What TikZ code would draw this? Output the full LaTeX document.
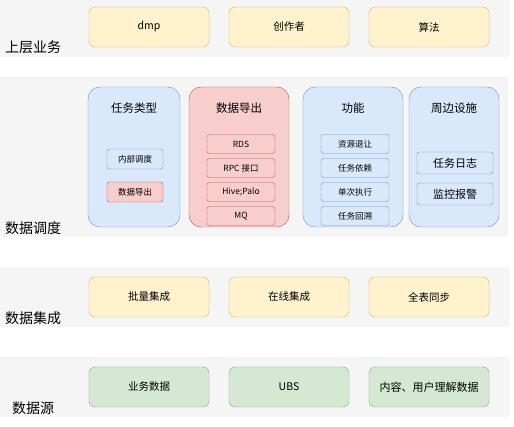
\documentclass[tikz,border=0pt]{standalone}
\usepackage{fontspec}
\setmainfont{Noto Sans CJK SC}
\usepackage{tikz}
\usetikzlibrary{positioning}
\definecolor{layergray}{HTML}{F5F5F5}
\definecolor{layeryellow}{HTML}{FFF2CC}
\definecolor{layeryellowline}{HTML}{D6B656}
\definecolor{layerblue}{HTML}{DAE8FC}
\definecolor{layerblueline}{HTML}{6C8EBF}
\definecolor{layerred}{HTML}{F8CECC}
\definecolor{layerredline}{HTML}{B85450}
\definecolor{layergreen}{HTML}{D5E8D4}
\definecolor{layergreenline}{HTML}{82B366}
\tikzstyle{layerlabel} = [anchor=west, inner sep=0pt, font=\fontsize{14}{16}\selectfont]
\tikzstyle{wideitem} = [rounded corners=6pt, minimum width=120pt, minimum height=40pt, inner sep=0pt, font=\fontsize{10.5}{12}\selectfont]
\tikzstyle{groupbox} = [rounded corners=12pt, minimum height=140pt, inner sep=0pt]
\tikzstyle{smallitem} = [rounded corners=2.5pt, minimum width=68pt, minimum height=19pt, inner sep=0pt, font=\fontsize{8.5}{10}\selectfont]

\begin{document}
\begin{tikzpicture}[x=1pt, y=-1pt]
\useasboundingbox (0,0) rectangle (514,427);

% layer backgrounds
\fill[layergray] (0,0) rectangle (510,57);
\fill[layergray] (0,77) rectangle (508,237);
\fill[layergray] (0,267) rectangle (510,327);
\fill[layergray] (0,357) rectangle (510,417);

\node[layerlabel] (lblbiz) at (5,47) {上层业务};
\node[layerlabel] (lblsched) at (5,228) {数据调度};
\node[layerlabel] (lblinteg) at (5,318) {数据集成};
\node[layerlabel] (lblsrc) at (12,408) {数据源};

% top business
\foreach [count=\i] \t/\x in {dmp/149, 创作者/289, 算法/429}
  \node[wideitem, fill=layeryellow, draw=layeryellowline] (biz\i) at (\x,27) {\t};

% integration
\foreach [count=\i] \t/\x in {批量集成/149, 在线集成/289, 全表同步/429}
  \node[wideitem, fill=layeryellow, draw=layeryellowline] (integ\i) at (\x,297) {\t};

% sources
\foreach [count=\i] \t/\x in {业务数据/149, UBS/289}
  \node[wideitem, fill=layergreen, draw=layergreenline] (src\i) at (\x,387) {\t};
\node[wideitem, fill=layergreen, draw=layergreenline, font=\fontsize{11}{12}\selectfont] (src3) at (429,387) {内容、用户理解数据};

% scheduling groups
\node[groupbox, minimum width=92pt, fill=layerblue, draw=layerblueline] (tasktype) at (134,157) {};
\node[groupbox, minimum width=100pt, fill=layerred, draw=layerredline] (export) at (239,157) {};
\node[groupbox, minimum width=100pt, fill=layerblue, draw=layerblueline] (func) at (353,157) {};
\node[groupbox, minimum width=90pt, fill=layerblue, draw=layerblueline] (infra) at (454,157) {};

\node[font=\fontsize{11.5}{13}\selectfont] (tasktypetitle) at (134,108) {任务类型};
\node[font=\fontsize{11.5}{13}\selectfont] (exporttitle) at (239,108) {数据导出};
\node[font=\fontsize{11.5}{13}\selectfont] (functitle) at (353,108) {功能};
\node[font=\fontsize{11.5}{13}\selectfont] (infratitle) at (454,108) {周边设施};

\node[smallitem, minimum width=56pt, minimum height=20pt, fill=layerblue, draw=layerblueline] (inner) at (135,159) {内部调度};
\node[smallitem, minimum width=56pt, minimum height=20pt, fill=layerred, draw=layerredline] (exportkind) at (135,192) {数据导出};

\foreach [count=\i] \t/\y in {RDS/144, RPC 接口/168, Hive;Palo/192, MQ/216}
  \node[smallitem, fill=layerred, draw=layerredline] (exp\i) at (241,\y) {\t};

\foreach [count=\i] \t/\y in {资源退让/144, 任务依赖/168, 单次执行/192, 任务回溯/216}
  \node[smallitem, fill=layerblue, draw=layerblueline] (fn\i) at (355,\y) {\t};

\foreach [count=\i] \t/\y in {任务日志/163, 监控报警/194}
  \node[smallitem, minimum width=76pt, minimum height=22pt, font=\fontsize{11}{12}\selectfont, fill=layerblue, draw=layerblueline] (inf\i) at (455,\y) {\t};
\end{tikzpicture}
\end{document}
